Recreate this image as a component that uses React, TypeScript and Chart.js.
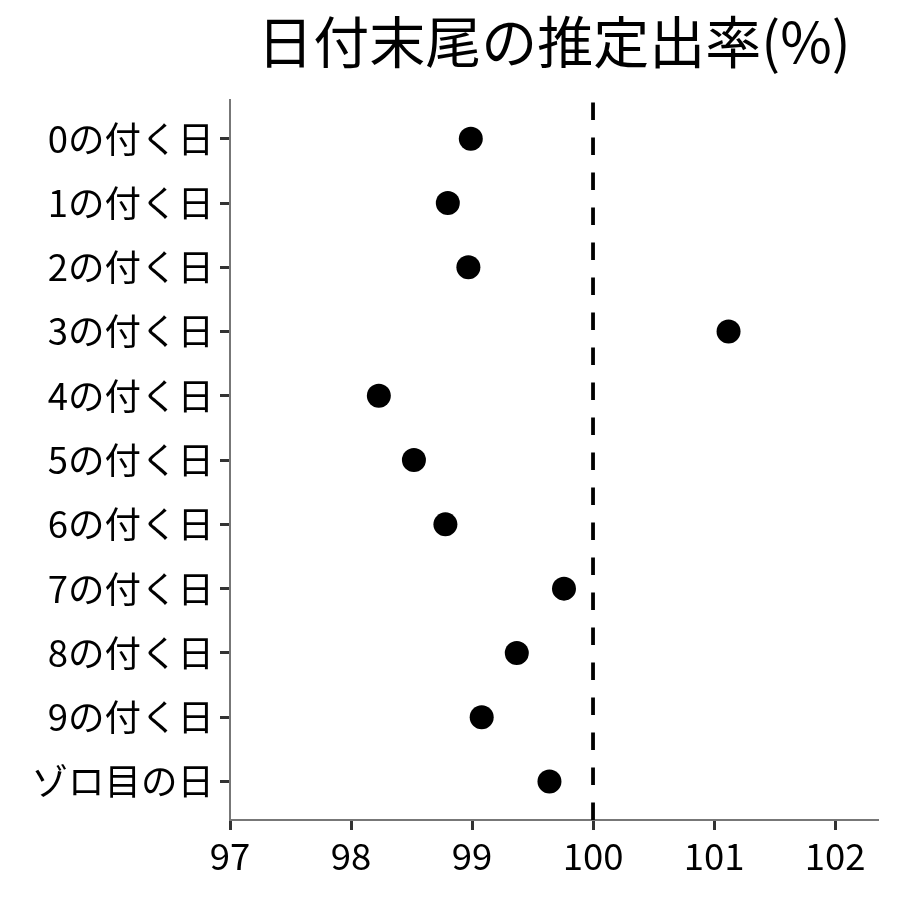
import React, { useEffect, useRef } from "react";
import { Chart, registerables } from "chart.js";

Chart.register(...registerables);

const TITLE = "日付末尾の推定出率(%)";
const CATEGORIES = [
  "0の付く日",
  "1の付く日",
  "2の付く日",
  "3の付く日",
  "4の付く日",
  "5の付く日",
  "6の付く日",
  "7の付く日",
  "8の付く日",
  "9の付く日",
  "ゾロ目の日",
];
const RATES = [98.99, 98.8, 98.97, 101.12, 98.23, 98.52, 98.78, 99.76, 99.37, 99.08, 99.64];
const X_TICKS = [97, 98, 99, 100, 101, 102];
const X_MIN = 97;
const X_MAX = 102.355;
const REFERENCE = 100;
const Y_MIN = -0.6;
const Y_MAX = 10.6;

const FONT = "'Noto Sans CJK JP', 'Noto Sans', sans-serif";

export default function App() {
  const ref = useRef<HTMLCanvasElement | null>(null);

  useEffect(() => {
    document.body.style.margin = "0";
    const canvas = ref.current;
    if (!canvas) return;
    const chart = new Chart(canvas, {
      type: "scatter",
      data: {
        datasets: [
          {
            label: "rate",
            data: RATES.map((v, i) => ({ x: v, y: i })),
            backgroundColor: "#000",
            borderWidth: 0,
            pointRadius: 12,
            pointHoverRadius: 12,
          },
          {
            label: "ref",
            type: "line",
            data: [
              { x: REFERENCE, y: Y_MAX },
              { x: REFERENCE, y: Y_MIN },
            ],
            borderColor: "#000",
            borderWidth: 3.8,
            borderDash: [17.5, 17.5],
            pointRadius: 0,
            fill: false,
            showLine: true,
          } as any,
        ],
      },
      options: {
        responsive: false,
        animation: false,
        layout: { padding: { top: 0, right: 22, bottom: 0, left: 0 } },
        plugins: {
          legend: { display: false },
          tooltip: { enabled: false },
          title: {
            display: true,
            text: TITLE,
            color: "#000",
            fullSize: false,
            font: { family: FONT, size: 56, weight: "normal", lineHeight: 1.2 },
            padding: { top: 8, bottom: 25 },
          },
        },
        scales: {
          x: {
            type: "linear",
            min: X_MIN,
            max: X_MAX,
            afterBuildTicks: (scale: any) => {
              scale.ticks = X_TICKS.map((v) => ({ value: v }));
            },
            afterFit: (scale: any) => {
              scale.height = 80;
            },
            grid: {
              drawOnChartArea: false,
              drawTicks: true,
              tickLength: 10,
              tickColor: "#333",
              tickWidth: 3,
            } as any,
            border: { display: true, color: "#777", width: 2 },
            ticks: {
              color: "#000",
              padding: 4,
              maxRotation: 0,
              autoSkip: false,
              font: { family: FONT, size: 36.5 },
              callback: (v: any) => String(v),
            },
          },
          y: {
            type: "linear",
            min: Y_MIN,
            max: Y_MAX,
            reverse: true,
            afterBuildTicks: (scale: any) => {
              scale.ticks = CATEGORIES.map((_, i) => ({ value: i }));
            },
            afterFit: (scale: any) => {
              scale.width = 230;
            },
            grid: {
              drawOnChartArea: false,
              drawTicks: true,
              tickLength: 10,
              tickColor: "#333",
              tickWidth: 3,
            } as any,
            border: { display: true, color: "#777", width: 2 },
            ticks: {
              color: "#000",
              padding: 6,
              autoSkip: false,
              font: { family: FONT, size: 36.5 },
              callback: (v: any) => CATEGORIES[Math.round(Number(v))] ?? "",
            },
          },
        },
      },
    });
    return () => chart.destroy();
  }, []);

  return (
    <div style={{ width: 900, height: 900, background: "#fff" }}>
      <canvas ref={ref} width={900} height={900} />
    </div>
  );
}
